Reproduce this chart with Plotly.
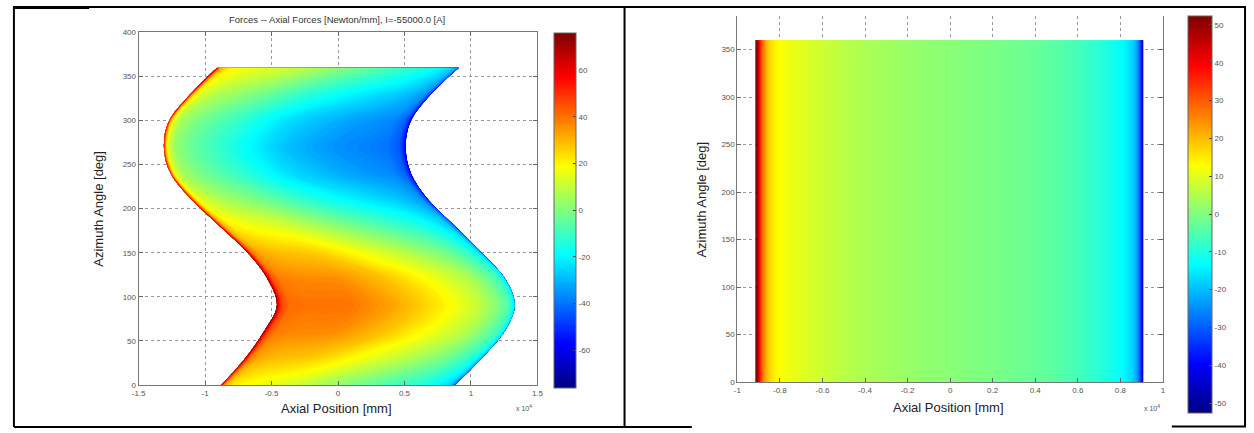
import plotly.graph_objects as go

W, H = 1254, 433

# ---------------- Left panel: axial force on the S-shaped conductor band ----------------
theta_rows = [0, 30, 60, 90, 120, 150, 180, 210, 240, 270, 300, 330, 360]  # azimuth [deg]
# band edges, axial position in units of 10^4 mm
band_left_edge = [-0.88, -0.70, -0.56, -0.46, -0.53, -0.68, -0.89, -1.10, -1.26, -1.31, -1.27, -1.11, -0.91]
band_right_edge = [0.88, 1.08, 1.25, 1.33, 1.26, 1.08, 0.88, 0.68, 0.55, 0.51, 0.55, 0.70, 0.91]
band_fraction = [0, 0.006, 0.02, 0.05, 0.12, 0.30, 0.50, 0.70, 0.85, 0.93, 0.975, 0.994, 1.0]
force_left = [
    [64, 45, 30, 22, 18, 12, 2, -7, -14, -20, -26, -36, -50],      # 0
    [69, 52, 39, 32, 29, 26, 17, 7, -2, -10, -17, -27, -40],       # 30
    [73, 57, 45, 39, 37, 36, 28, 17, 7, -3, -10, -20, -33],        # 60
    [74, 59, 47, 41, 40, 40, 32, 21, 10, 0, -8, -18, -30],         # 90
    [73, 57, 45, 39, 37, 36, 28, 17, 7, -3, -10, -20, -33],        # 120
    [69, 52, 39, 32, 29, 26, 17, 7, -2, -10, -17, -27, -40],       # 150
    [64, 45, 30, 22, 18, 12, 2, -7, -14, -20, -26, -36, -50],      # 180
    [59, 38, 22, 13, 7, -2, -13, -21, -26, -30, -35, -45, -60],    # 210
    [55, 33, 15, 6, -1, -12, -24, -31, -35, -37, -42, -52, -67],   # 240
    [54, 31, 13, 3, -4, -16, -28, -35, -38, -40, -44, -54, -70],   # 270
    [55, 33, 15, 6, -1, -12, -24, -31, -35, -37, -42, -52, -67],   # 300
    [59, 38, 22, 13, 7, -2, -13, -21, -26, -30, -35, -45, -60],    # 330
    [64, 45, 30, 22, 18, 12, 2, -7, -14, -20, -26, -36, -50],      # 360
]
left_x_ticks = [-1.5, -1, -0.5, 0, 0.5, 1, 1.5]
left_x_ticktext = ["-1.5", "-1", "-0.5", "0", "0.5", "1", "1.5"]
left_y_ticks = [0, 50, 100, 150, 200, 250, 300, 350, 400]
left_cb_ticks = [-60, -40, -20, 0, 20, 40, 60]

# ---------------- Right panel: axial force on the straight band ----------------
axial_pos_right = [-0.912, -0.905, -0.895, -0.885, -0.87, -0.85, -0.82, -0.78, -0.70, -0.60, -0.50,
                   -0.40, -0.30, -0.20, -0.10, 0.0, 0.10, 0.20, 0.30, 0.40, 0.50, 0.60, 0.70,
                   0.78, 0.82, 0.85, 0.87, 0.885, 0.895, 0.902, 0.907]
force_right = [52, 47, 38, 30, 22, 17, 14, 12, 10, 8, 6, 4.5, 3.5, 2.5, 1.5, 1, 0.2, -0.5, -1.5,
               -2.5, -4, -6, -9, -12, -14, -17, -21, -27, -35, -45, -52]
angle_edges_right = [0, 180, 360]
right_x_ticks = [-1, -0.8, -0.6, -0.4, -0.2, 0, 0.2, 0.4, 0.6, 0.8, 1]
right_x_ticktext = ["-1", "-0.8", "-0.6", "-0.4", "-0.2", "0", "0.2", "0.4", "0.6", "0.8", "1"]
right_y_ticks = [0, 50, 100, 150, 200, 250, 300, 350]
right_cb_ticks = [-50, -40, -30, -20, -10, 0, 10, 20, 30, 40, 50]

jet = [[0.0, "rgb(0,0,128)"], [0.125, "rgb(0,0,255)"], [0.375, "rgb(0,255,255)"],
       [0.625, "rgb(255,255,0)"], [0.875, "rgb(255,0,0)"], [1.0, "rgb(128,0,0)"]]

FONT = "Liberation Sans, Arial, sans-serif"
TICKFONT = dict(family=FONT, size=8, color="#555")

def px_x(p):
    return p / W

def px_y(p):
    return 1 - p / H

# carpet geometry built from the read band edges
carpet_x = [[L + f * (R - L) for f in band_fraction] for L, R in zip(band_left_edge, band_right_edge)]
carpet_y = [[t for _ in band_fraction] for t in theta_rows]

hidden_axis = dict(smoothing=0, showgrid=False, showline=False, showticklabels="none",
                   startline=False, endline=False, minorgridcount=0, gridcolor="rgba(0,0,0,0)",
                   linecolor="rgba(0,0,0,0)")
hidden_b = dict(hidden_axis)
hidden_b["smoothing"] = 1

fig = go.Figure()
fig.add_trace(go.Carpet(
    a=band_fraction, b=theta_rows, x=carpet_x, y=carpet_y, carpet="band",
    xaxis="x", yaxis="y", aaxis=hidden_axis, baxis=hidden_b, color="rgba(0,0,0,0)",
))
fig.add_trace(go.Contourcarpet(
    carpet="band", a=band_fraction, b=theta_rows, z=force_left,
    colorscale=jet, zmin=-76, zmax=76, autocontour=False,
    contours=dict(start=-76, end=76, size=1, coloring="fill", showlines=False),
    line=dict(width=0),
    colorbar=dict(x=px_x(553), xanchor="left", xpad=0, thickness=22, thicknessmode="pixels",
                  y=px_y((29 + 392) / 2), yanchor="middle", len=(392 - 29) / H, lenmode="fraction",
                  ypad=0, outlinecolor="#666", outlinewidth=1,
                  tickvals=left_cb_ticks, ticktext=[str(v) for v in left_cb_ticks],
                  ticks="inside", ticklen=3, tickcolor="#444", tickfont=TICKFONT),
))
fig.add_trace(go.Heatmap(
    x=axial_pos_right, y=angle_edges_right, z=[force_right, force_right],
    xaxis="x2", yaxis="y2", colorscale=jet, zmin=-52.5, zmax=52.5, zsmooth="best",
    colorbar=dict(x=px_x(1193), xanchor="left", xpad=0, thickness=24, thicknessmode="pixels",
                  y=px_y((12 + 417) / 2), yanchor="middle", len=(417 - 12) / H, lenmode="fraction",
                  ypad=0, outlinecolor="#666", outlinewidth=1,
                  tickvals=right_cb_ticks, ticktext=[str(v) for v in right_cb_ticks],
                  ticks="inside", ticklen=3, tickcolor="#444", tickfont=TICKFONT),
))

axis_common = dict(ticks="inside", ticklen=4, tickcolor="#666", showline=True, linecolor="#777",
                   linewidth=1, showgrid=True, gridcolor="#999", griddash="dot", gridwidth=1,
                   zeroline=False, tickfont=TICKFONT)

fig.update_layout(
    width=W, height=H, margin=dict(l=0, r=0, t=0, b=0),
    paper_bgcolor="white", plot_bgcolor="white", showlegend=False,
    xaxis=dict(domain=[px_x(133), px_x(536)], range=[-1.5, 1.5], anchor="y",
               tickvals=left_x_ticks, ticktext=left_x_ticktext, mirror="ticks", **axis_common),
    yaxis=dict(domain=[px_y(389), px_y(29)], range=[0, 400], anchor="x",
               tickvals=left_y_ticks, ticktext=[str(v) for v in left_y_ticks], mirror="ticks", **axis_common),
    xaxis2=dict(domain=[px_x(738), px_x(1168)], range=[-1, 1], anchor="y2",
                tickvals=right_x_ticks, ticktext=right_x_ticktext, mirror=False, **axis_common),
    yaxis2=dict(domain=[px_y(386), px_y(12)], range=[0, 385.6], anchor="x2",
                tickvals=right_y_ticks, ticktext=[str(v) for v in right_y_ticks], mirror="ticks", **axis_common),
)

def ann(text, x, y, size, angle=0, color="#333"):
    fig.add_annotation(text=text, x=px_x(x), y=px_y(y), xref="paper", yref="paper",
                       showarrow=False, textangle=angle, xanchor="center", yanchor="middle",
                       font=dict(family=FONT, size=size, color=color))

ann("Forces -- Axial Forces [Newton/mm], I=-55000.0 [A]", 333, 16, 9.5)
ann("Axial Position [mm]", 333, 413, 13, color="#222")
ann("Azimuth Angle [deg]", 93, 209, 13, angle=-90, color="#222")
ann("x 10<sup>4</sup>", 522, 413, 7, color="#555")
ann("Axial Position [mm]", 951, 412, 13, color="#222")
ann("Azimuth Angle [deg]", 702, 200, 13, angle=-90, color="#222")
ann("x 10<sup>4</sup>", 1157, 413, 7, color="#555")

# table frame around the two pictures
def hline(x0, x1, y, w=2):
    fig.add_shape(type="line", xref="paper", yref="paper", x0=px_x(x0), x1=px_x(x1),
                  y0=px_y(y), y1=px_y(y), line=dict(color="black", width=w))

def vline(x, y0, y1, w=2):
    fig.add_shape(type="line", xref="paper", yref="paper", x0=px_x(x), x1=px_x(x),
                  y0=px_y(y0), y1=px_y(y1), line=dict(color="black", width=w))

hline(7, 1251, 3)
hline(7, 83, 3.5, 3)
vline(7, 2, 432)
vline(624, 2, 432)
vline(1251, 2, 432)
hline(7, 692, 432)
hline(1177, 1252, 431.5)

fig.write_html("out.html", config={"displayModeBar": False},
               post_script="document.body.style.margin='0px';document.body.style.overflow='hidden';")
